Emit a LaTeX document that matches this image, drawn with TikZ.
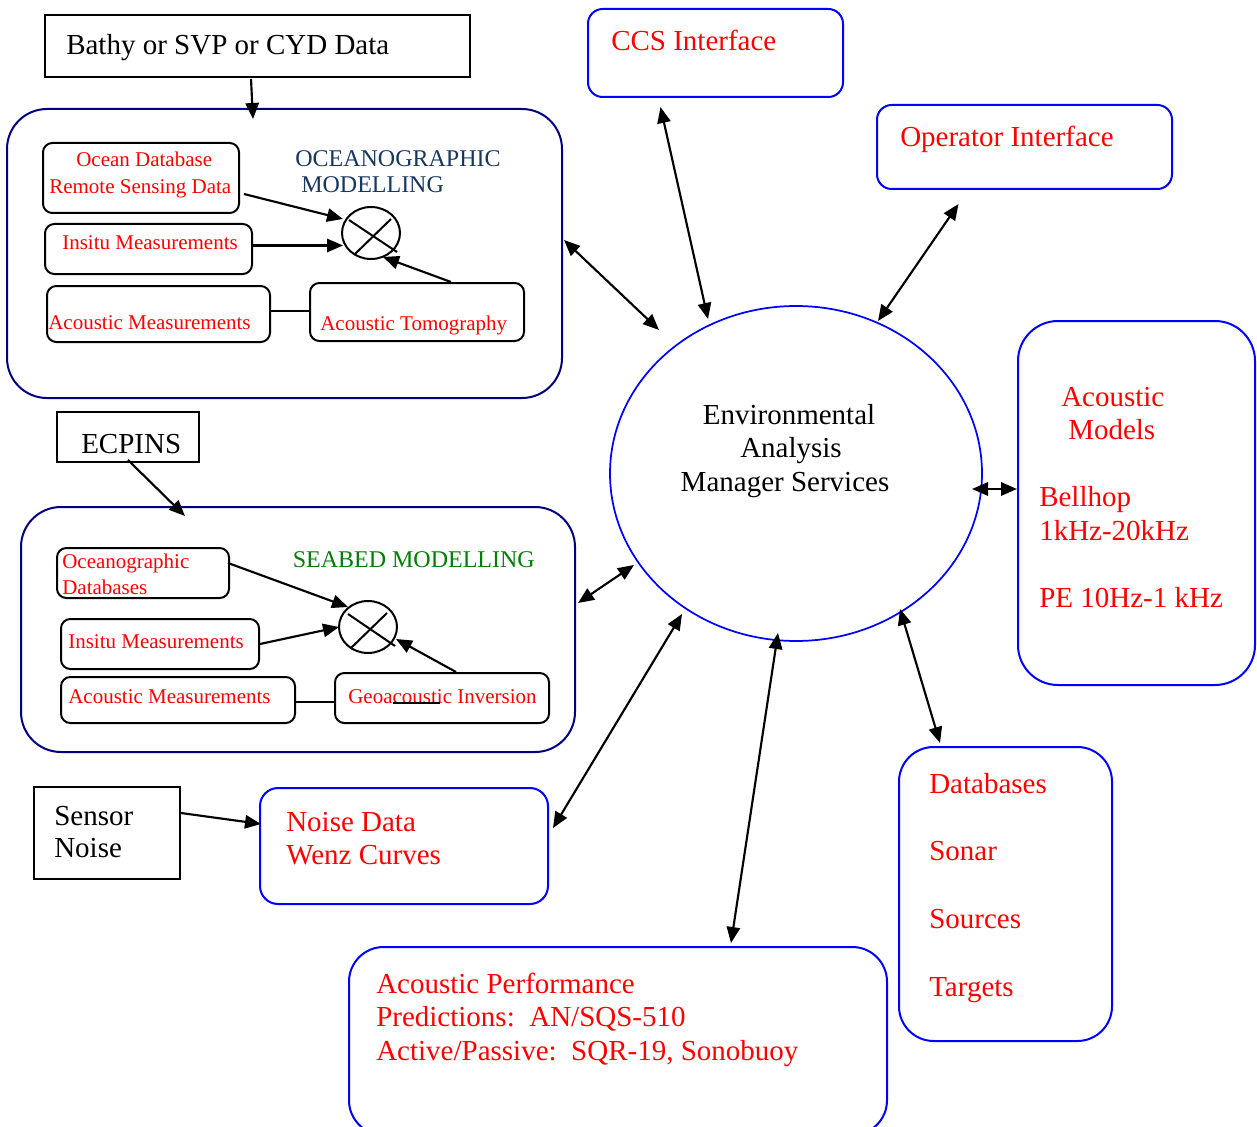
\documentclass[tikz,border=0pt]{standalone}
\usepackage{fontspec}
\setmainfont{Liberation Serif}
\usetikzlibrary{arrows.meta,shapes.geometric,calc,fit}
\definecolor{rd}{RGB}{255,0,0}
\definecolor{bl}{RGB}{0,0,255}
\definecolor{nv}{RGB}{0,0,128}
\definecolor{ntext}{RGB}{23,55,94}
\definecolor{gr}{RGB}{0,128,0}
\newcommand{\fbig}{\fontsize{21.75pt}{25pt}\selectfont}
\newcommand{\fmid}{\fontsize{18pt}{21pt}\selectfont}
\newcommand{\fsmall}{\fontsize{15.75pt}{18pt}\selectfont}
\frenchspacing
\begin{document}
\begin{tikzpicture}[x=0.75pt,y=-0.75pt,
  sqbox/.style={draw=black,line width=1.5pt,inner sep=0pt},
  inbox/.style={draw=black,line width=1.5pt,inner sep=0pt,rounded corners=7pt},
  navybox/.style={draw=nv,line width=1.5pt,inner sep=0pt,rounded corners=30pt},
  bluebox/.style={draw=bl,line width=1.5pt,inner sep=0pt},
  sumnode/.style={draw=black,line width=1.5pt,ellipse,inner sep=0pt,minimum width=43.5pt,minimum height=39pt},
  lbl/.style={anchor=base west,inner sep=0pt},
  bigred/.style={lbl,font=\fbig,text=rd},
  smallred/.style={lbl,font=\fsmall,text=rd},
  bigblack/.style={lbl,font=\fbig,text=black},
  arr/.style={line width=1.6pt,-{Triangle[length=12pt,width=10pt]}},
  dbl/.style={line width=1.6pt,{Triangle[length=12pt,width=10pt]}-{Triangle[length=12pt,width=10pt]}},
  plain/.style={line width=1.5pt}]
\clip (0,0) rectangle (1257,1127);
\fill[white] (0,0) rectangle (1257,1127);

% ---- boxes ----
\node[sqbox,fit={(45,15)(470,77)}] (bathy) {};
\node[navybox,fit={(7,109)(562,398)}] (oceano) {};
\node[inbox,fit={(43,143)(239,213)}] (oceandb) {};
\node[inbox,fit={(45,224)(252,274)}] (insituA) {};
\node[inbox,fit={(47,286)(270,342)}] (acmA) {};
\node[inbox,fit={(310,283)(524,341)}] (tomo) {};
\node[sumnode] (sumA) at (371,233) {};

\node[sqbox,fit={(57,412)(199,462)}] (ecpins) {};
\node[navybox,fit={(21,507)(575,752)}] (seabed) {};
\node[inbox,fit={(57,548)(229,598)}] (ocdb) {};
\node[inbox,fit={(61,619)(259,669)}] (insituB) {};
\node[inbox,fit={(61,677)(295,723)}] (acmB) {};
\node[inbox,fit={(335,673)(549,723)}] (geo) {};
\node[sumnode] (sumB) at (368,627) {};

\node[bluebox,rounded corners=11pt,fit={(588,9)(843,97)}] (ccs) {};
\node[bluebox,rounded corners=11pt,fit={(877,105)(1172,189)}] (oper) {};
\node[draw=bl,line width=1.3pt,ellipse,inner sep=0pt,minimum width=279pt,minimum height=251.25pt] (env) at (796,473.5) {};
\node[bluebox,rounded corners=30pt,fit={(1018,321)(1255,685)}] (acmod) {};
\node[bluebox,rounded corners=26pt,fit={(899,747)(1112,1041)}] (dbs) {};
\node[sqbox,fit={(34,787)(180,879)}] (sensor) {};
\node[bluebox,rounded corners=13.5pt,fit={(260,788)(548,904)}] (noise) {};
\node[bluebox,rounded corners=26pt,fit={(349,947)(887,1135)}] (perf) {};

% ---- crosses in summing junctions ----
\draw[plain] ($(sumA)+(-22,-13)$) -- ($(sumA)+(26,19)$);
\draw[plain] ($(sumA)+(20,-14)$) -- ($(sumA)+(-16,21)$);
\draw[plain] ($(sumB)+(-20,-13)$) -- ($(sumB)+(27,19)$);
\draw[plain] ($(sumB)+(19,-14)$) -- ($(sumB)+(-17,21)$);

% ---- texts ----
\node[bigblack] (tbathy) at (66,55) {Bathy or SVP or CYD Data};
\node[smallred] (tod1) at (76,167) {Ocean Database};
\node[smallred] (tod2) at (49,194) {Remote Sensing Data};
\node[smallred] (tinA) at (62,249) {Insitu Measurements};
\node[smallred] (tamA) at (48,329) {Acoustic Measurements};
\node[smallred] (ttomo) at (320,330) {Acoustic Tomography};
\node[lbl,font=\fmid,text=ntext] (toc1) at (295,167) {OCEANOGRAPHIC};
\node[lbl,font=\fmid,text=ntext] (toc2) at (301,193) {MODELLING};

\node[bigblack] (tecp) at (81,453) {ECPINS};
\node[lbl,font=\fmid,text=gr] (tsea) at (292.5,567) {SEABED MODELLING};
\node[smallred] (tocd1) at (62,568) {Oceanographic};
\node[smallred] (tocd2) at (62,594) {Databases};
\node[smallred] (tinB) at (68,648) {Insitu Measurements};
\node[smallred] (tamB) at (68,703) {Acoustic Measurements};
\node[smallred] (tgeo) at (348,703) {Geoacoustic Inversion};

\node[bigred] (tccs) at (611,51) {CCS Interface};
\node[bigred] (toper) at (900,147) {Operator Interface};

\node[anchor=base,inner sep=0pt,font=\fbig] (tenv1) at (789,424) {Environmental};
\node[anchor=base,inner sep=0pt,font=\fbig] (tenv2) at (791,457) {Analysis};
\node[anchor=base,inner sep=0pt,font=\fbig] (tenv3) at (785,491) {Manager Services};

\node[bigred] (tam1) at (1061,406) {Acoustic};
\node[bigred] (tam2) at (1068,439) {Models};
\node[bigred] (tam3) at (1039,506) {Bellhop};
\node[bigred] (tam4) at (1039,540) {1kHz-20kHz};
\node[bigred] (tam5) at (1039,607) {PE 10Hz-1 kHz};

\node[bigred] (tdb1) at (929,793) {Databases};
\node[bigred] (tdb2) at (929,860) {Sonar};
\node[bigred] (tdb3) at (929,928) {Sources};
\node[bigred] (tdb4) at (929,996) {Targets};

\node[bigblack] (tsen1) at (54,825) {Sensor};
\node[bigblack] (tsen2) at (54,857) {Noise};
\node[bigred] (tno1) at (286,831) {Noise Data};
\node[bigred] (tno2) at (286,864) {Wenz Curves};

\node[bigred] (tap1) at (376,993) {Acoustic Performance};
\node[bigred] (tap2) at (376,1026) {Predictions:\ \ AN/SQS-510};
\node[bigred] (tap3) at (376,1060) {Active/Passive:\ \ SQR-19, Sonobuoy};

% ---- free connector ends ----
\coordinate (e1) at (659,330);
\coordinate (e2) at (708,319);
\coordinate (e3) at (878,321);
\coordinate (e4) at (972,489);
\coordinate (e5) at (634,565);
\coordinate (e6) at (682,614);
\coordinate (e7) at (778,633);
\coordinate (e8) at (900,609);
\coordinate (f1) at (253,119);
\coordinate (f2) at (185,516);
\coordinate (f3) at (261,824);
\coordinate (s1) at (343,219);
\coordinate (s2) at (343,245.5);
\coordinate (s3) at (383,257);
\coordinate (s4) at (348,607);
\coordinate (s5) at (339,627);
\coordinate (s6) at (396,639);

% ---- connectors ----
\draw[dbl] ($(oceano.east)+(1,-13.5)$) -- (e1);
\draw[dbl] ($(ccs.south)+(-55,9)$) -- (e2);
\draw[dbl] ($(oper.south)+(-66,14)$) -- (e3);
\draw[dbl] (e4) -- ($(acmod.west)+(0,-14)$);
\draw[dbl] ($(seabed.east)+(2,-26.5)$) -- (e5);
\draw[dbl] ($(noise.east)+(4,-18)$) -- (e6);
\draw[dbl] ($(perf.north)+(113,-3)$) -- (e7);
\draw[dbl] ($(dbs.north)+(-65.5,-3)$) -- (e8);

\draw[arr] ($(bathy.south)+(-6.5,1)$) -- (f1);
\draw[arr] ($(ecpins.south)+(0,-3)$) -- (f2);
\draw[arr] ($(sensor.east)+(0,-20)$) -- (f3);

\draw[arr] ($(oceandb.east)+(4,16)$) -- (s1);
\draw[arr] ($(insituA.east)+(0,-3.5)$) -- (s2);
\draw[arr] ($(tomo.north)+(34,0)$) -- (s3);
\draw[arr] ($(ocdb.east)+(-2,-10)$) -- (s4);
\draw[arr] (insituB.east) -- (s5);
\draw[arr] ($(geo.north)+(14,0)$) -- (s6);

\draw[plain] ($(acmA.east)+(0,-3)$) -- ($(tomo.west)+(0,-1)$);
\draw[plain] ($(acmB.east)+(0,2)$) -- ($(geo.west)+(0,4)$);
\draw[plain] (393,703) -- (440,703);
\end{tikzpicture}
\end{document}
